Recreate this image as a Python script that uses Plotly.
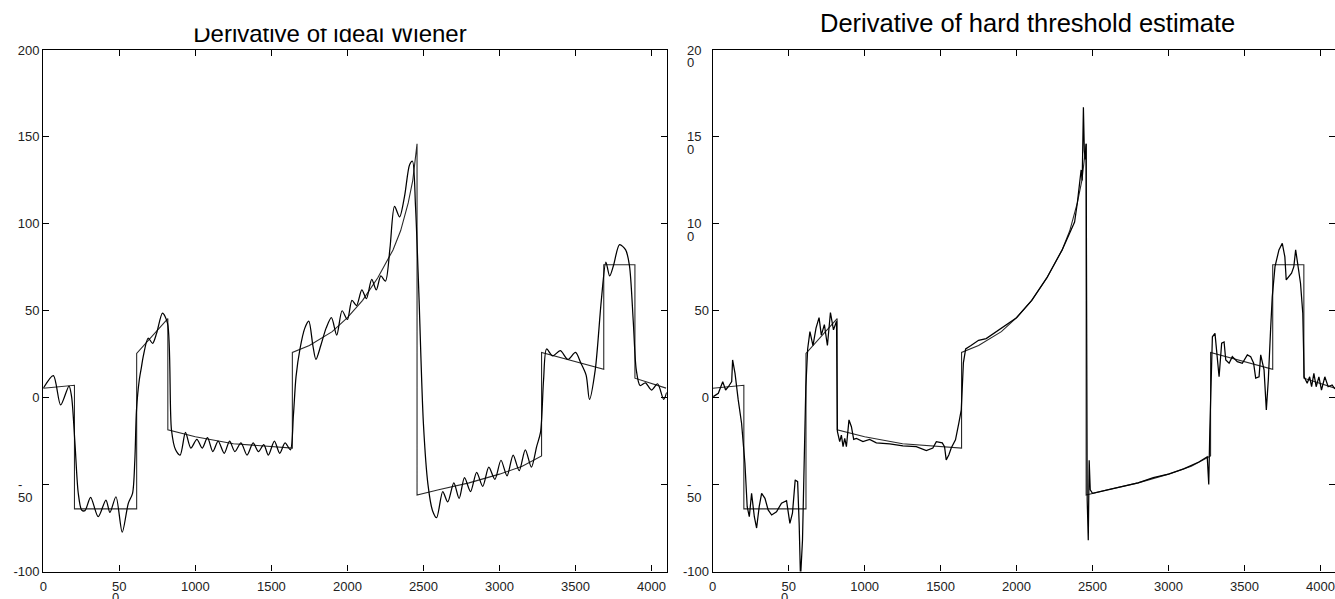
import plotly.graph_objects as go

# ---------------- data ----------------
# true (piecewise) derivative signal: breakpoints and values
true_x = [0, 205, 205, 614, 614, 819, 819, 1000, 1250, 1450, 1638, 1638, 1750, 1900, 2000, 2100, 2200, 2300,
          2350, 2400, 2430, 2458, 2458, 2600, 2800, 3000, 3150, 3277, 3277, 3686, 3686, 3891, 3891, 4096]
true_y = [5.4, 7.1, -64, -64, 25.5, 45.5, -18.5, -22.5, -26.5, -28, -29, 26, 30, 38, 46, 56, 69, 85,
          96, 112, 125, 146, -56, -53, -49, -44, -39.5, -33.5, 26, 16.3, 76.5, 76.5, 11.2, 5.5]

# ideal Wiener estimate
wien_x = [0, 66, 114, 169, 186, 208, 230, 252, 274, 311, 361, 412, 438, 478, 519, 559, 587, 602, 613, 631, 646,
          657, 690, 719, 745, 784, 817, 843, 870, 900, 935, 970, 1010, 1045, 1080, 1115, 1150, 1190, 1225, 1260,
          1300, 1340, 1380, 1415, 1450, 1480, 1520, 1555, 1590, 1625, 1645, 1662, 1688, 1720, 1746, 1773, 1793,
          1825, 1860, 1895, 1930, 1965, 2000, 2030, 2060, 2095, 2125, 2160, 2190, 2220, 2250, 2280, 2310, 2343,
          2376, 2409, 2428, 2448, 2470, 2500, 2530, 2560, 2587, 2627, 2660, 2700, 2735, 2770, 2810, 2850, 2890,
          2930, 2970, 3010, 3050, 3090, 3130, 3170, 3210, 3245, 3270, 3290, 3310, 3350, 3400, 3450, 3500, 3535,
          3570, 3592, 3630, 3670, 3700, 3725, 3750, 3790, 3830, 3855, 3880, 3900, 3925, 3960, 4000, 4040, 4080,
          4100]
wien_y = [5.4, 12.7, -4.2, 6.7, 0.6, -26, -55, -64.6, -65, -57.3, -68.5, -58.9, -66, -57, -77.4, -60.8, -55, -36,
          -7, 10, 17.8, 23.6, 34.2, 31.3, 37, 48.6, 42.8, -18.6, -30, -33, -20, -29, -24, -29, -23, -31, -25, -32,
          -25, -31, -26, -33, -26, -31, -27, -33, -25, -32, -26, -30, -10, 12, 28, 40, 44, 30, 22, 30, 40, 46, 36,
          50, 45, 56, 53, 62, 57, 68, 62, 70, 67, 86, 110, 104, 116, 134, 136, 110, 60, -15, -50, -65, -69, -54,
          -60, -49, -58, -46, -54, -43, -51, -40, -47, -36, -45, -33, -42, -30, -40, -28, -20, 10, 28, 24, 27, 22,
          26, 20, 13, -1, 16, 56, 78, 70, 76, 88, 85, 76, 44, 16, 7, 8.5, 4.4, 8, -1, 3]

# hard threshold estimate
hard_x = [4, 37, 66, 85, 103, 125, 131, 147, 168, 190, 212, 227, 241, 256, 274, 289, 306, 322, 344, 365, 388, 420,
          453, 486, 508, 525, 543, 559, 569, 578, 591, 602, 613, 625, 640, 660, 680, 700, 715, 735, 755, 775, 795,
          815, 821, 836, 847, 858, 869, 880, 897, 913, 928, 946, 989, 1033, 1077, 1165, 1252, 1340, 1406, 1449,
          1472, 1511, 1526, 1537, 1554, 1570, 1598, 1620, 1636, 1650, 1665, 1700, 1750, 1800, 1850, 1900, 2000,
          2100, 2200, 2300, 2350, 2382, 2400, 2414, 2425, 2432, 2440, 2446, 2452, 2458, 2465, 2472, 2478, 2485,
          2500, 2600, 2700, 2800, 2900, 3000, 3100, 3200, 3255, 3265, 3272, 3289, 3306, 3322, 3333, 3350, 3366,
          3377, 3399, 3420, 3453, 3486, 3519, 3541, 3560, 3574, 3596, 3607, 3629, 3644, 3657, 3672, 3683, 3701,
          3727, 3749, 3766, 3775, 3792, 3810, 3825, 3837, 3850, 3869, 3884, 3893, 3913, 3929, 3942, 3957, 3972,
          3990, 4007, 4029, 4051, 4077, 4096]
hard_y = [0.6, 2.5, 9.2, 4.4, 6.3, 9.2, 21.7, 14, -1.3, -14.7, -37.7, -62.7, -68.5, -55, -68.5, -75, -62.7, -55,
          -57.9, -64.6, -67.5, -65.6, -60.7, -59.3, -72.3, -66.5, -47.3, -48.3, -72.3, -104, -82, -28, 6.3, 28, 38,
          30, 40, 46, 36, 42, 30, 49, 39, 44, -19.5, -25.3, -21.5, -28.2, -23.4, -28.2, -12.8, -16.7, -24, -23.4,
          -25.3, -24, -26, -26.6, -27.8, -28.2, -30.5, -29, -25.3, -26, -28.2, -35.8, -33, -29, -24.3, -14.7, -7,
          20, 28, 30, 33, 34, 37, 40, 46, 56, 69, 85, 95, 101, 112, 122, 131, 125, 167, 142, 137, 146, -59, -82,
          -36, -53, -55, -53, -51, -49, -46, -44, -41, -37, -34, -50, -18.6, 35, 37, 19.8, 12, 31.3, 32, 21.7, 19.8,
          23.6, 20.7, 19.8, 24.6, 23.6, 20, 11.2, 12, 24.6, 16, -7, 10.2, 39, 58, 75.4, 85, 88.8, 81, 67.7, 69.6,
          71.6, 75.4, 85, 77.3, 65.8, 48.6, 12, 8.3, 12, 6.3, 14, 6.3, 12, 4.4, 12, 6.3, 7.3, 5]

# tick labels as they appear (some are wrapped onto two lines in the reference)
x_tickvals = [0, 500, 1000, 1500, 2000, 2500, 3000, 3500, 4000]
x_ticklabels = ["0", "50<br>0", "1000", "1500", "2000", "2500", "3000", "3500", "4000"]
y_tickvals = [-100, -50, 0, 50, 100, 150, 200]
y_ticklabels_left = ["-100", "-<br>50", "0", "50", "100", "150", "200"]
y_ticklabels_right = ["-100", "-<br>50", "0", "50", "10<br>0", "15<br>0", "20<br>0"]

titles = ["Derivative of ideal Wiener", "Derivative of hard threshold estimate"]

# ---------------- figure ----------------
W, H = 1335, 599
FAM = "Liberation Sans, Arial, sans-serif"
FS = 13
LINE_GAP = 12.5
font = dict(family=FAM, size=FS, color="#222222")

def xd(a, b):
    return [a / W, b / W]

def yd(top, bottom):
    return [(H - bottom) / H, (H - top) / H]

def text_w(s):
    return sum((0.333 if c == "-" else 0.556) * FS for c in s)

LEFT_X0, LEFT_X1 = 43.3, 666.7
RIGHT_X0, RIGHT_X1 = 712.7, 1335
PLOT_TOP, PLOT_BOT = 50, 571.5
XLABEL_Y = 585

fig = go.Figure()
true_style = dict(color="#2a2a2a", width=1.1)
est_style = dict(color="#000000", width=1.25)

fig.add_trace(go.Scatter(x=true_x, y=true_y, mode="lines", line=true_style, xaxis="x", yaxis="y", showlegend=False))
fig.add_trace(go.Scatter(x=wien_x, y=wien_y, mode="lines", line=dict(shape="spline", smoothing=0.8, **est_style),
                         xaxis="x", yaxis="y", showlegend=False))
fig.add_trace(go.Scatter(x=true_x, y=true_y, mode="lines", line=true_style, xaxis="x2", yaxis="y2", showlegend=False))
fig.add_trace(go.Scatter(x=hard_x, y=hard_y, mode="lines", line=est_style, xaxis="x2", yaxis="y2", showlegend=False))

# left title: drawn as text clipped by a small invisible subplot (its top is cut in the reference)
fig.add_trace(go.Scatter(x=[330], y=[35.8], mode="text", text=[titles[0]], textposition="middle center",
                         textfont=dict(family=FAM, size=24, color="black"), cliponaxis=True,
                         xaxis="x3", yaxis="y3", showlegend=False, hoverinfo="skip"))

annotations = [
    dict(text=titles[1], xref="paper", yref="paper", x=1027 / W, y=1 - 23.5 / H,
         showarrow=False, font=dict(family=FAM, size=25.5, color="black"),
         xanchor="center", yanchor="middle"),
]

def ann(text, **kw):
    d = dict(text=text, showarrow=False, font=font, borderpad=0, borderwidth=0)
    d.update(kw)
    annotations.append(d)

# wrapped y tick labels -> one annotation per line, left aligned in a block
def y_labels(vals, labels, yref, spine_px):
    shown = []
    for v, lab in zip(vals, labels):
        lines = lab.split("<br>")
        if len(lines) == 1:
            shown.append(lab)
            continue
        shown.append("")
        left = spine_px - 11 - max(text_w(l) for l in lines)
        for k, line in enumerate(lines):
            ann(line, xref="paper", x=left / W, xanchor="left", yref=yref, y=v, yanchor="middle",
                yshift=-LINE_GAP * k)
    return shown

# x tick labels: first line by the axis, extra lines as annotations below it
def x_labels(vals, labels, xref):
    shown = []
    for v, lab in zip(vals, labels):
        lines = lab.split("<br>")
        shown.append(lines[0])
        for k, line in enumerate(lines[1:], start=1):
            ann(line, xref=xref, x=v, xanchor="left", xshift=-text_w(lines[0]) / 2,
                yref="paper", y=(H - (XLABEL_Y + LINE_GAP * k)) / H, yanchor="middle")
    return shown

yl_left = y_labels(y_tickvals, y_ticklabels_left, "y", LEFT_X0)
yl_right = y_labels(y_tickvals, y_ticklabels_right, "y2", RIGHT_X0)
xl_left = x_labels(x_tickvals, x_ticklabels, "x")
xl_right = x_labels(x_tickvals, x_ticklabels, "x2")

axis_common = dict(showline=True, linecolor="black", linewidth=1.3, mirror="allticks", ticks="inside",
                   ticklen=6, tickcolor="black", tickwidth=1.2, showgrid=False, zeroline=False, tickfont=font,
                   automargin=False)
hidden = dict(visible=False, showgrid=False, zeroline=False, fixedrange=True, automargin=False)

fig.update_layout(
    template="none",
    width=W, height=H, margin=dict(l=0, r=0, t=0, b=0, autoexpand=False),
    paper_bgcolor="white", plot_bgcolor="white", hovermode=False,
    xaxis=dict(domain=xd(LEFT_X0, LEFT_X1), range=[0, 4100], tickvals=x_tickvals, ticktext=xl_left,
               ticklabelstandoff=3, anchor="y", **axis_common),
    yaxis=dict(domain=yd(PLOT_TOP, PLOT_BOT), range=[-100, 200], tickvals=y_tickvals, ticktext=yl_left,
               anchor="x", **axis_common),
    xaxis2=dict(domain=xd(RIGHT_X0, RIGHT_X1), range=[0, 4096], tickvals=x_tickvals, ticktext=xl_right,
                ticklabelstandoff=3, anchor="y2", **axis_common),
    yaxis2=dict(domain=yd(PLOT_TOP, PLOT_BOT), range=[-100, 200], tickvals=y_tickvals, ticktext=yl_right,
                anchor="x2", **axis_common),
    xaxis3=dict(domain=xd(100, 600), range=[100, 600], anchor="y3", **hidden),
    yaxis3=dict(domain=yd(28.5, 49), range=[49, 28.5], anchor="x3", **hidden),
    annotations=annotations,
)

fig.write_html("out.html", config={"displayModeBar": False},
               post_script="document.body.style.margin='0px';")
